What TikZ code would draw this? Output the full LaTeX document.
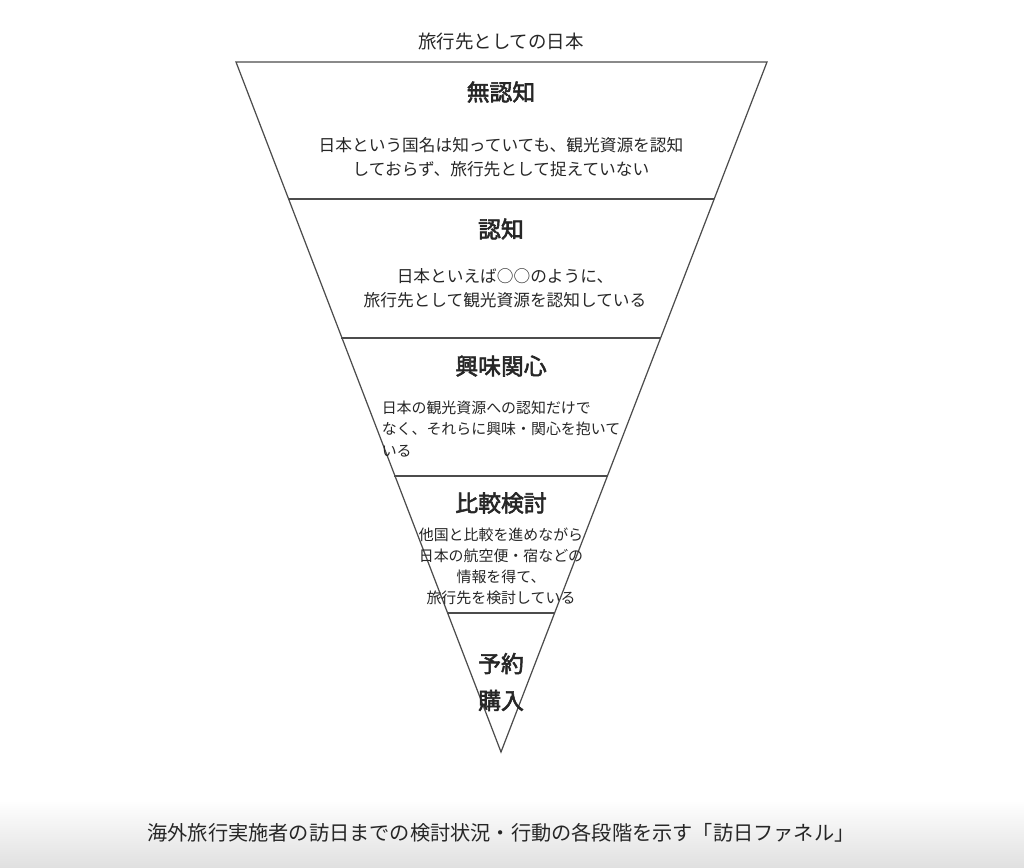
\documentclass[tikz,border=0pt]{standalone}
\usepackage{fontspec}
\setmainfont{Noto Sans CJK JP}
\newfontfamily\jpb{Noto Sans CJK JP}[FakeBold=2.5]
\begin{document}
\begin{tikzpicture}[x=0.02cm,y=-0.02cm,
  ln/.style={draw=black!70,line width=0.7pt},
  hd/.style={font=\jpb\fontsize{13}{15}\selectfont,text=black!85},
  bd/.style={font=\fontsize{9.5}{13.5}\selectfont,align=center,text=black!85},
  bds/.style={font=\fontsize{8.5}{12}\selectfont,align=center,text=black!85}]
\useasboundingbox (0,0) rectangle (1024,867);
\shade[top color=white,bottom color=black!12] (0,800) rectangle (1024,867);
\coordinate (tl) at (236,62); \coordinate (tr) at (767,62); \coordinate (ap) at (501,752);
\draw[ln] (tl) -- (tr) -- (ap) -- cycle;
\foreach \y/\a/\b in {199/288/714,338/341/660,476/394/607,613/447/554}
  \draw[ln] (\a,\y) -- (\b,\y);
\node[font=\fontsize{10.5}{12}\selectfont,text=black!85] (title) at (501,42) {旅行先としての日本};
\node[hd] (h1) at (501,92) {無認知};
\node[bd] (t1) at (501,157) {日本という国名は知っていても、観光資源を認知\\しておらず、旅行先として捉えていない};
\node[hd] (h2) at (501,229) {認知};
\node[bd] (t2) at (505,288) {日本といえば○○のように、\\旅行先として観光資源を認知している};
\node[hd] (h3) at (501,366) {興味関心};
\node[bds,align=left] (t3) at (501,429) {日本の観光資源への認知だけで\\なく、それらに興味・関心を抱いて\\いる};
\node[hd] (h4) at (501,503) {比較検討};
\node[bds] (t4) at (501,566) {他国と比較を進めながら\\日本の航空便・宿などの\\情報を得て、\\旅行先を検討している};
\node[hd,align=center,font=\jpb\fontsize{13}{21}\selectfont] (h5) at (501,682) {予約\\購入};
\node[font=\fontsize{11.5}{13}\selectfont,text=black!85] (cap) at (501,833) {海外旅行実施者の訪日までの検討状況・行動の各段階を示す「訪日ファネル」};
\end{tikzpicture}
\end{document}
